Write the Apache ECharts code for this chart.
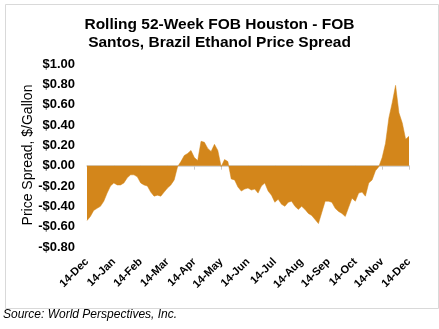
<!DOCTYPE html>
<html>
<head>
<meta charset="utf-8">
<script src="https://cdn.jsdelivr.net/npm/echarts@6/dist/echarts.min.js"></script>
<style>
html,body{margin:0;padding:0;background:#fff;}
#chart{width:439px;height:329px;}
</style>
</head>
<body>
<div id="chart"></div>
<script>
// Month tick labels (one per month, 13 ticks)
const monthLabels = ['14-Dec','14-Jan','14-Feb','14-Mar','14-Apr','14-May','14-Jun','14-Jul','14-Aug','14-Sep','14-Oct','14-Nov','14-Dec'];
// Samples per month in the spread series
const samplesPerMonth = 8;
// Price spread, $/gallon (FOB Houston - FOB Santos)
const spreadValues = [
 -0.54,-0.50,-0.44,-0.42,-0.40,-0.35,-0.27,-0.20,
 -0.17,-0.19,-0.19,-0.17,-0.12,-0.09,-0.09,-0.11,
 -0.17,-0.19,-0.20,-0.26,-0.30,-0.29,-0.30,-0.26,
 -0.22,-0.19,-0.14,-0.01, 0.04, 0.10, 0.12, 0.15,
  0.08, 0.05, 0.24, 0.23, 0.17, 0.14, 0.21, 0.15,
 -0.01, 0.06, 0.04,-0.13,-0.14,-0.21,-0.25,-0.23,
 -0.22,-0.24,-0.23,-0.27,-0.20,-0.17,-0.25,-0.29,
 -0.36,-0.33,-0.38,-0.40,-0.36,-0.35,-0.40,-0.43,
 -0.40,-0.43,-0.47,-0.49,-0.53,-0.57,-0.46,-0.35,
 -0.35,-0.36,-0.42,-0.45,-0.47,-0.50,-0.41,-0.32,
 -0.35,-0.27,-0.26,-0.30,-0.17,-0.14,-0.05,-0.01,
  0.08, 0.22, 0.47, 0.62, 0.79, 0.52, 0.42, 0.26,
  0.29
];
const yMin = -0.8, yMax = 1.0, yStep = 0.2;

const seriesData = spreadValues.map((v, i) => [i / samplesPerMonth, v]);
const fmtMoney = v => {
  const r = Math.round(v * 100) / 100;
  return (r < 0 ? '-$' : '$') + Math.abs(r).toFixed(2);
};

const chart = echarts.init(document.getElementById('chart'), null, {renderer: 'canvas'});
chart.setOption({
  animation: false,
  backgroundColor: '#ffffff',
  title: {
    text: 'Rolling 52-Week FOB Houston - FOB\nSantos, Brazil Ethanol Price Spread',
    left: 'center',
    top: 11,
    textStyle: {fontFamily: 'Liberation Sans, Arial, sans-serif', fontWeight: 'bold', fontSize: 15.5, lineHeight: 18, color: '#000'}
  },
  grid: {left: 87, right: 30, top: 64, bottom: 82, containLabel: false},
  xAxis: [
    {
      type: 'value', min: 0, max: monthLabels.length - 1, interval: 1,
      position: 'bottom',
      axisLine: {show: false, onZero: false},
      axisTick: {show: false},
      splitLine: {show: false},
      axisLabel: {
        rotate: 45, margin: 13,
        fontFamily: 'Liberation Sans, Arial, sans-serif', fontWeight: 'bold', fontSize: 11, color: '#000',
        formatter: v => monthLabels[Math.round(v)]
      }
    },
    {
      type: 'value', min: 0, max: monthLabels.length - 1, interval: 1,
      position: 'top',
      axisLine: {show: true, onZero: true, lineStyle: {color: '#C8C8C8', width: 1.5}},
      axisTick: {show: true, inside: true, length: 4, lineStyle: {color: '#C8C8C8', width: 1}},
      splitLine: {show: false},
      axisLabel: {show: false}
    }
  ],
  yAxis: {
    type: 'value', min: yMin, max: yMax, interval: yStep,
    axisLine: {show: false}, axisTick: {show: false}, splitLine: {show: false},
    axisLabel: {
      margin: 12,
      fontFamily: 'Liberation Sans, Arial, sans-serif', fontWeight: 'bold', fontSize: 13, color: '#000',
      formatter: fmtMoney
    }
  },
  series: [{
    type: 'line',
    xAxisIndex: 0,
    data: seriesData,
    showSymbol: false,
    symbol: 'none',
    lineStyle: {width: 0.5, color: '#D3861B'},
    areaStyle: {color: '#D3861B', opacity: 1, origin: 0},
    z: 1
  }],
  graphic: [
    {type: 'rect', left: 3, top: 2, z: -10, silent: true,
     shape: {width: 433, height: 304},
     style: {fill: 'none', stroke: '#D9D9D9', lineWidth: 1}},
    {type: 'text', x: 28, y: 155, rotation: Math.PI / 2,
     style: {text: 'Price Spread, $/Gallon', fontFamily: 'Liberation Sans, Arial, sans-serif', fontSize: 14, fill: '#000', textAlign: 'center', textVerticalAlign: 'middle'}},
    {type: 'text', left: 3, top: 309,
     style: {text: 'Source: World Perspectives, Inc.', fontFamily: 'Liberation Sans, Arial, sans-serif', fontStyle: 'italic', fontSize: 12, fill: '#000'}}
  ]
});
</script>
</body>
</html>
